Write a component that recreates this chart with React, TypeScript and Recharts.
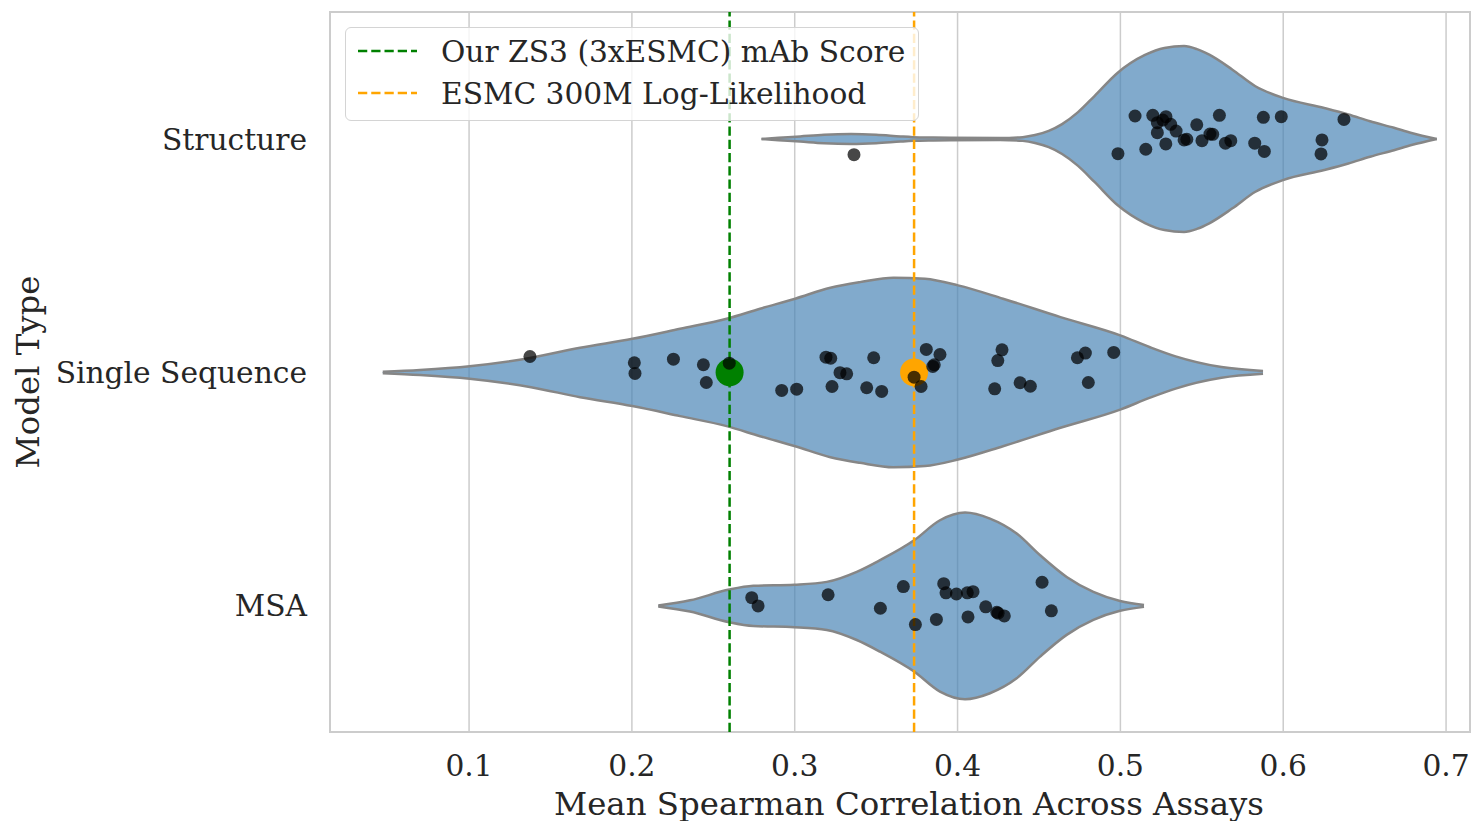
import { ComposedChart, Area, Scatter, XAxis, YAxis, CartesianGrid, ReferenceLine, ReferenceArea } from "recharts";

const CATEGORIES = ["Structure", "Single Sequence", "MSA"];
const X_TICKS = [0.1, 0.2, 0.3, 0.4, 0.5, 0.6, 0.7];
const X_DOMAIN = [0.0146, 0.7147];
const Y_DOMAIN = [-0.544, 2.54];

// violin outlines: score -> half width (in category units)
const structureGrid = [0.2796, 0.29, 0.3033, 0.318, 0.3346, 0.35, 0.365, 0.3726, 0.385, 0.3954, 0.4261, 0.44, 0.4476, 0.456, 0.4642, 0.474, 0.4841, 0.4982, 0.5151, 0.527, 0.5391, 0.547, 0.5546, 0.5688, 0.5829, 0.5999, 0.6252, 0.64, 0.6533, 0.668, 0.6788, 0.6943];
const structureWidth = [0.0, 0.005, 0.011, 0.018, 0.021, 0.018, 0.011, 0.008, 0.006, 0.005, 0.004, 0.008, 0.017, 0.035, 0.064, 0.115, 0.184, 0.283, 0.36, 0.39, 0.398, 0.385, 0.361, 0.297, 0.226, 0.176, 0.133, 0.105, 0.076, 0.048, 0.026, 0.0];

const singleGrid = [0.047, 0.0699, 0.1003, 0.1381, 0.1682, 0.2003, 0.2296, 0.2582, 0.2787, 0.3003, 0.3219, 0.3401, 0.3607, 0.38, 0.4003, 0.4279, 0.4632, 0.5003, 0.5182, 0.5339, 0.5621, 0.5876];
const singleWidth = [0.003, 0.011, 0.027, 0.063, 0.106, 0.144, 0.187, 0.23, 0.273, 0.316, 0.363, 0.387, 0.406, 0.401, 0.373, 0.316, 0.237, 0.158, 0.108, 0.069, 0.023, 0.006];

const msaGrid = [0.2162, 0.2357, 0.2598, 0.2746, 0.2998, 0.3197, 0.3381, 0.3524, 0.3733, 0.3892, 0.4046, 0.4199, 0.4363, 0.4507, 0.467, 0.4834, 0.4998, 0.5145];
const msaWidth = [0.002, 0.024, 0.07, 0.086, 0.091, 0.103, 0.146, 0.196, 0.281, 0.367, 0.4, 0.374, 0.31, 0.217, 0.124, 0.06, 0.021, 0.004];

// individual models (score, vertical jitter)
const structureScores = [0.509, 0.5199, 0.5227, 0.528, 0.526, 0.5309, 0.5227, 0.5342, 0.5469, 0.5408, 0.5391, 0.5501, 0.555, 0.5567, 0.5608, 0.5645, 0.5678, 0.5825, 0.5884, 0.5878, 0.5988, 0.6238, 0.6232, 0.6373, 0.5279, 0.5156, 0.4985, 0.3364];
const structureJitter = [-0.0985, -0.1015, -0.07, -0.0955, -0.081, -0.063, -0.027, -0.034, -0.061, 0.001, 0.004, 0.007, -0.021, -0.02, -0.1015, 0.018, 0.007, 0.018, 0.053, -0.093, -0.0955, 0.004, 0.064, -0.084, 0.021, 0.044, 0.063, 0.067];

const singleScores = [0.1374, 0.2015, 0.2019, 0.2255, 0.2439, 0.2457, 0.2598, 0.292, 0.3012, 0.3192, 0.3221, 0.3229, 0.3278, 0.3319, 0.3442, 0.3485, 0.3534, 0.3733, 0.3776, 0.3808, 0.3892, 0.3857, 0.3848, 0.4273, 0.4247, 0.4228, 0.4384, 0.4447, 0.4736, 0.4785, 0.4959, 0.4803];
const singleJitter = [-0.0685, -0.0415, 0.004, -0.057, -0.033, 0.043, -0.04, 0.077, 0.0715, -0.0655, -0.061, 0.06, 0.001, 0.006, 0.0655, -0.063, 0.081, 0.02, 0.06, -0.0985, -0.077, -0.033, -0.026, -0.097, -0.051, 0.07, 0.044, 0.059, -0.063, -0.083, -0.086, 0.043];

const msaScores = [0.2736, 0.2775, 0.3205, 0.3526, 0.3667, 0.3741, 0.387, 0.3915, 0.3929, 0.3993, 0.406, 0.4095, 0.4064, 0.4173, 0.4241, 0.4249, 0.4287, 0.4519, 0.4576];
const msaJitter = [-0.0355, 0.0, -0.048, 0.01, -0.083, 0.08, 0.058, -0.0955, -0.056, -0.051, -0.056, -0.061, 0.047, 0.004, 0.027, 0.031, 0.043, -0.1015, 0.021];

const OUR_ZS3 = 0.26;
const ESMC_LL = 0.3733;

const violin = (grid: number[], width: number[], idx: number) =>
  grid.map((v, i) => ({ v, range: [idx - width[i], idx + width[i]] }));
const strip = (scores: number[], jitter: number[], idx: number) =>
  scores.map((v, i) => ({ v, y: idx + jitter[i] }));

const violins = [
  violin(structureGrid, structureWidth, 0),
  violin(singleGrid, singleWidth, 1),
  violin(msaGrid, msaWidth, 2),
];
const points = [
  ...strip(structureScores, structureJitter, 0),
  ...strip(singleScores, singleJitter, 1),
  ...strip(msaScores, msaJitter, 2),
];

const FONT = "'DejaVu Serif', serif";
const TEXT = "#262626";
const TICK_SIZE = 29.7;
const LABEL_SIZE = 32.4;
const DASH = "9.25 4";
const tickStyle = { fontSize: TICK_SIZE, fill: TEXT, fontFamily: FONT };

const dot = (r: number, fill: string, opacity = 1) => (props: any) =>
  <circle cx={props.cx} cy={props.cy} r={r} fill={fill} fillOpacity={opacity} />;

const LegendRow = ({ color, label, top }: { color: string; label: string; top: number }) => (
  <div style={{ position: "absolute", left: 12, top: top - 20, height: 40, display: "flex", alignItems: "center" }}>
    <svg width={59} height={6} style={{ marginRight: 24 }}>
      <line x1={0} y1={3} x2={59} y2={3} stroke={color} strokeWidth={2.5} strokeDasharray={DASH} />
    </svg>
    <span style={{ fontFamily: FONT, fontSize: TICK_SIZE, color: TEXT, whiteSpace: "nowrap" }}>{label}</span>
  </div>
);

export default function App() {
  return (
    <div style={{ position: "absolute", left: 0, top: 0, width: 1483, height: 821, background: "#fff" }}>
      <ComposedChart width={1483} height={821} margin={{ top: 12, right: 13, bottom: 0, left: 0 }} style={{ fontFamily: FONT }}>
        <CartesianGrid vertical horizontal={false} stroke="#cccccc" strokeWidth={1.5} />
        <XAxis
          dataKey="v"
          type="number"
          domain={X_DOMAIN}
          ticks={X_TICKS}
          allowDataOverflow
          tickFormatter={(t: number) => t.toFixed(1)}
          axisLine={false}
          tickLine={false}
          tickSize={0}
          tickMargin={23}
          height={89}
          tick={tickStyle}
        />
        <YAxis
          dataKey="y"
          type="number"
          domain={Y_DOMAIN}
          ticks={[0, 1, 2]}
          reversed
          allowDataOverflow
          tickFormatter={(t: number) => CATEGORIES[t]}
          axisLine={false}
          tickLine={false}
          tickSize={0}
          tickMargin={23}
          width={330}
          tick={tickStyle}
        />
        <ReferenceArea x1={X_DOMAIN[0]} x2={X_DOMAIN[1]} y1={Y_DOMAIN[0]} y2={Y_DOMAIN[1]} fill="none" stroke="#cccccc" strokeWidth={2} ifOverflow="visible" />
        {violins.map((d, i) => (
          <Area
            key={CATEGORIES[i]}
            data={d}
            dataKey="range"
            type="monotone"
            fill="#4682b4"
            fillOpacity={0.68}
            stroke="#868686"
            strokeWidth={2.5}
            isAnimationActive={false}
            activeDot={false}
          />
        ))}
        <ReferenceLine x={OUR_ZS3} stroke="green" strokeWidth={2.5} strokeDasharray={DASH} />
        <ReferenceLine x={ESMC_LL} stroke="orange" strokeWidth={2.5} strokeDasharray={DASH} />
        <Scatter data={[{ v: OUR_ZS3, y: 1 }]} shape={dot(14, "green")} isAnimationActive={false} />
        <Scatter data={[{ v: ESMC_LL, y: 1 }]} shape={dot(14, "orange")} isAnimationActive={false} />
        <Scatter data={points} shape={dot(6.5, "#000", 0.72)} isAnimationActive={false} />
      </ComposedChart>

      <div style={{ position: "absolute", left: 345, top: 27, width: 572, height: 92, border: "1.5px solid #d4d4d4", borderRadius: 6, background: "rgba(255,255,255,0.8)" }}>
        <LegendRow color="green" label="Our ZS3 (3xESMC) mAb Score" top={23} />
        <LegendRow color="orange" label="ESMC 300M Log-Likelihood" top={65} />
      </div>

      <div style={{ position: "absolute", left: 28, top: 372, transform: "translate(-50%, -50%) rotate(-90deg)", fontFamily: FONT, fontSize: LABEL_SIZE, color: TEXT, whiteSpace: "nowrap" }}>
        Model Type
      </div>
      <div style={{ position: "absolute", left: 909, top: 804, transform: "translate(-50%, -50%)", fontFamily: FONT, fontSize: LABEL_SIZE, color: TEXT, whiteSpace: "nowrap" }}>
        Mean Spearman Correlation Across Assays
      </div>
    </div>
  );
}
